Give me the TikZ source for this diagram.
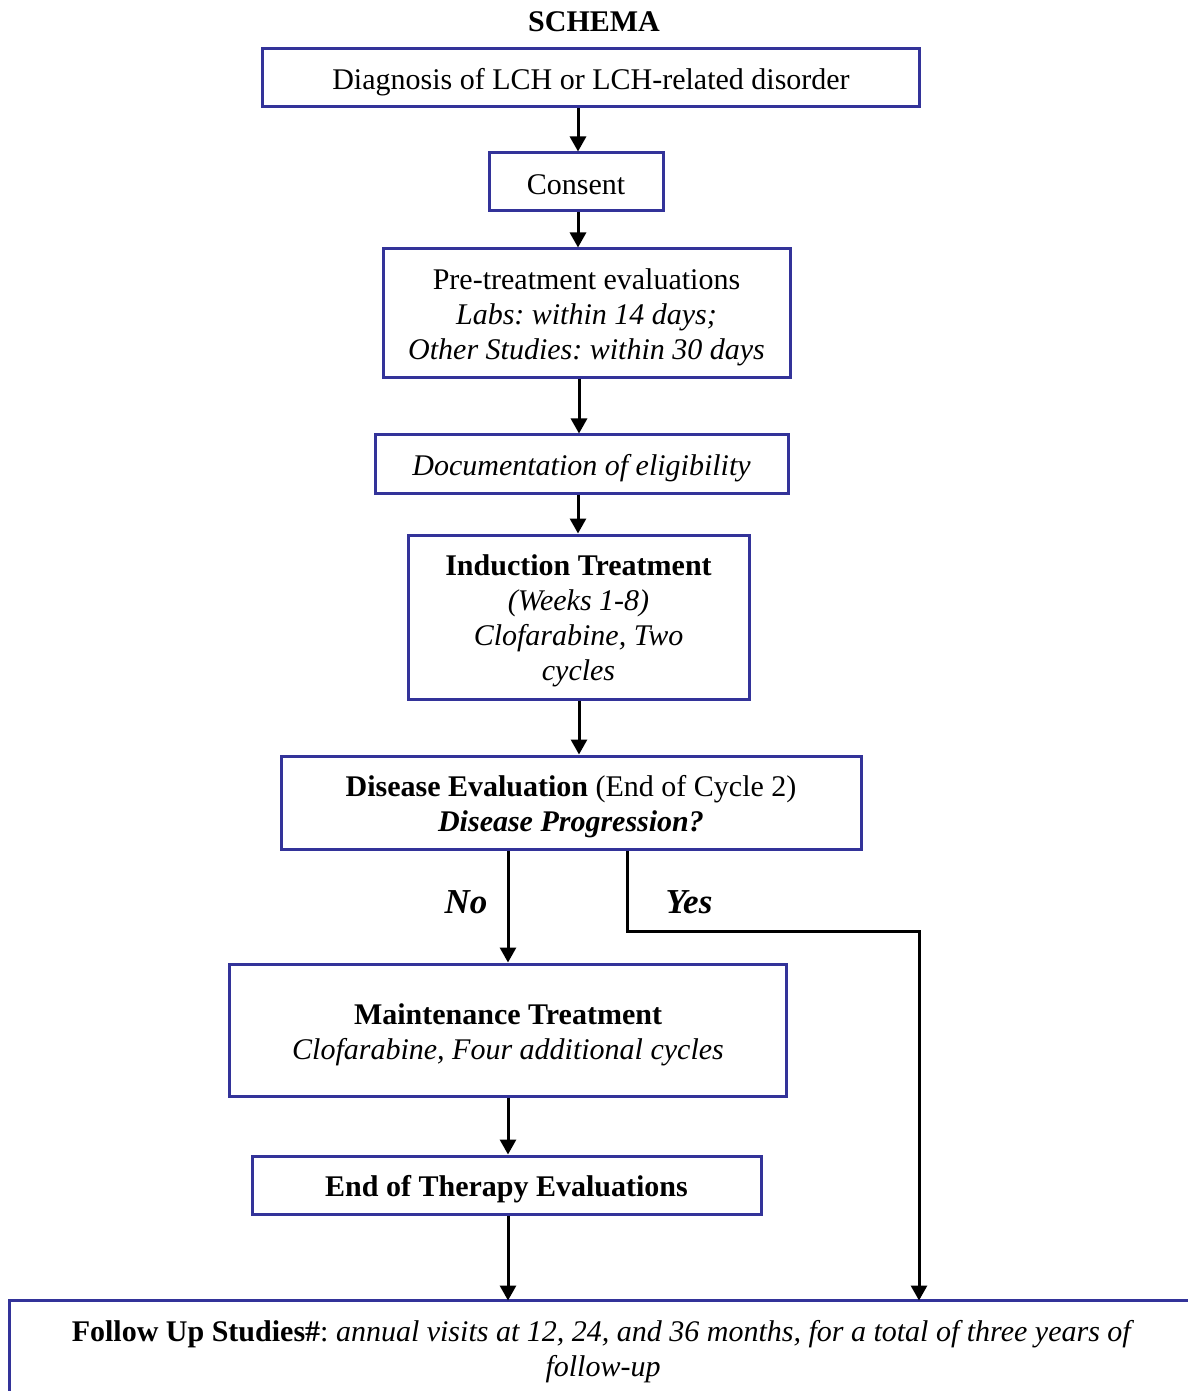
\documentclass[tikz,border=0pt]{standalone}
\usepackage{fontspec}
\setmainfont{Liberation Serif}
\usetikzlibrary{arrows.meta}
\definecolor{boxblue}{RGB}{51,51,153}
\frenchspacing
\begin{document}
\begin{tikzpicture}[x=0.4pt,y=-0.4pt,
  box/.style={draw=boxblue,line width=1.2pt,inner sep=0pt},
  txt/.style={align=center,inner sep=0pt,font=\fontsize{12}{14}\selectfont},
  arr/.style={draw=black,line width=1.2pt,-{Triangle[length=6pt,width=6.4pt]}},
  lbl/.style={font=\fontsize{14}{16}\selectfont\bfseries\itshape,inner sep=0pt}]
\useasboundingbox (0,0) rectangle (1187,1391);
\fill[white] (0,0) rectangle (1187,1391);
\node[font=\fontsize{12}{14}\selectfont\bfseries,inner sep=0pt] (title) at (594,22) {SCHEMA};
\node[box,minimum width=262.4pt,minimum height=23.2pt] (b1) at (591,78) {};
\node[txt] (t1) at ([yshift=-1.8pt]b1.center) {Diagnosis of LCH or LCH-related disorder};
\node[box,minimum width=69.6pt,minimum height=23.2pt] (b2) at (576,182) {};
\node[txt] (t2) at ([yshift=-1.2pt]b2.center) {Consent};
\node[box,minimum width=162.8pt,minimum height=51.2pt] (b3) at (586.5,313) {};
\node[txt] (t3) at ([yshift=-1.8pt]b3.center) {Pre-treatment evaluations\\ \textit{Labs: within 14 days;}\\ \textit{Other Studies: within 30 days}};
\node[box,minimum width=165.2pt,minimum height=23.2pt] (b4) at (581.5,464) {};
\node[txt] (t4) at ([yshift=-1.6pt]b4.center) {\textit{Documentation of eligibility}};
\node[box,minimum width=136.4pt,minimum height=65.6pt] (b5) at (578.5,617) {};
\node[txt] (t5) at ([yshift=-1.6pt]b5.center) {\textbf{Induction Treatment}\\ \textit{(Weeks 1-8)}\\ \textit{Clofarabine, Two}\\ \textit{cycles}};
\node[box,minimum width=232pt,minimum height=37.2pt] (b6) at (571,802.5) {};
\node[txt] (t6) at ([yshift=-1.6pt]b6.center) {\textbf{Disease Evaluation} (End of Cycle 2)\\ \textbf{\textit{Disease Progression?}}};
\node[box,minimum width=222.4pt,minimum height=52.8pt] (b7) at (508,1030) {};
\node[txt] (t7) at ([yshift=-2pt]b7.center) {\textbf{Maintenance Treatment}\\ \textit{Clofarabine, Four additional cycles}};
\node[box,minimum width=203.6pt,minimum height=23.2pt] (b8) at (506.5,1185) {};
\node[txt] (t8) at ([yshift=-1.6pt]b8.center) {\textbf{End of Therapy Evaluations}};
\node[inner sep=0pt,minimum width=476pt,minimum height=47.6pt] (b9) at (605,1360.5) {};
\draw[draw=boxblue,line width=1.2pt] (b9.south west) -- (b9.north west) -- (b9.north east);
\node[txt] (t9) at (603,1351.5) {\textbf{Follow Up Studies\#}: \textit{annual visits at 12, 24, and 36 months, for a total of three years of}\\ \textit{follow-up}};
\coordinate (xa) at (578,0);
\coordinate (xb) at (579,0);
\coordinate (xno) at (508,0);
\coordinate (xyes) at (627,0);
\coordinate (xr) at (919,0);
\coordinate (yy) at (0,931);
\draw[arr] (b1.south -| xa) -- (b2.north -| xa);
\draw[arr] (b2.south -| xa) -- (b3.north -| xa);
\draw[arr] (b3.south -| xb) -- (b4.north -| xb);
\draw[arr] (b4.south -| xa) -- (b5.north -| xa);
\draw[arr] (b5.south -| xb) -- (b6.north -| xb);
\draw[arr] (b6.south -| xno) -- (b7.north -| xno);
\draw[arr] (b6.south -| xyes) -- (xyes |- yy) -- (xr |- yy) -- (b9.north -| xr);
\draw[arr] (b7.south -| xno) -- (b8.north -| xno);
\draw[arr] (b8.south -| xno) -- (b9.north -| xno);
\node[lbl] (no) at (466,902) {No};
\node[lbl] (yes) at (689,902) {Yes};
\end{tikzpicture}
\end{document}
